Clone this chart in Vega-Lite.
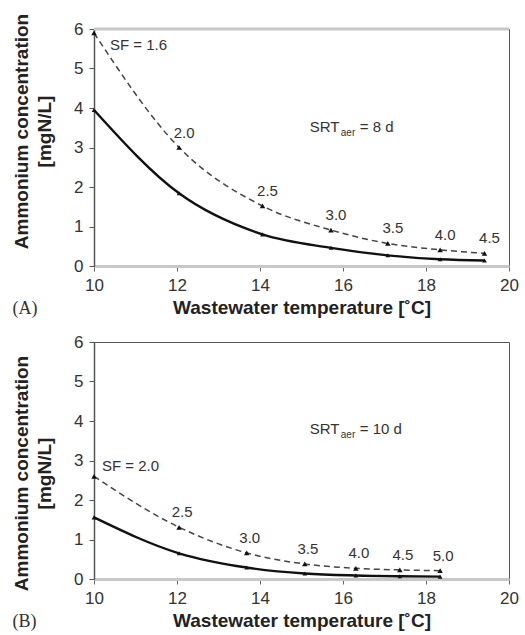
{
  "$schema": "https://vega.github.io/schema/vega-lite/v6.json",
  "padding": {"left": 12, "top": 12, "right": 4, "bottom": 2},
  "background": "white",
  "config": {
    "view": {"stroke": "#555", "strokeWidth": 1},
    "font": "Liberation Sans",
    "axis": {"grid": false, "labelFont": "Liberation Sans", "titleFont": "Liberation Sans", "labelColor": "#333", "titleColor": "#222", "labelOverlap": false, "labelFlush": false, "labelSeparation": 0, "labelFontSize": 17, "titleFontSize": 19, "titleFontWeight": "bold", "tickSize": 5},
    "axisY": {"domainColor": "#555", "domainWidth": 1.5, "tickColor": "#555", "labelPadding": 6, "titlePadding": 19, "titleLineHeight": 23, "tickCount": 7},
    "axisX": {"domainColor": "#c8c8c8", "domainWidth": 3, "tickColor": "#666", "labelPadding": 6, "titlePadding": 5},
    "concat": {"spacing": 76}
  },
  "datasets": {
    "a": [
      {"t": 10, "sf": 5.9, "base": 3.95, "label": "SF = 1.6"},
      {"t": 12.05, "sf": 3.0, "base": 1.84, "label": "2.0"},
      {"t": 14.06, "sf": 1.52, "base": 0.8, "label": "2.5"},
      {"t": 15.71, "sf": 0.91, "base": 0.46, "label": "3.0"},
      {"t": 17.08, "sf": 0.57, "base": 0.27, "label": "3.5"},
      {"t": 18.34, "sf": 0.41, "base": 0.17, "label": "4.0"},
      {"t": 19.41, "sf": 0.32, "base": 0.14, "label": "4.5"}
    ],
    "b": [
      {"t": 10, "sf": 2.6, "base": 1.56, "label": "SF = 2.0"},
      {"t": 12.05, "sf": 1.31, "base": 0.65, "label": "2.5"},
      {"t": 13.68, "sf": 0.66, "base": 0.29, "label": "3.0"},
      {"t": 15.08, "sf": 0.38, "base": 0.14, "label": "3.5"},
      {"t": 16.31, "sf": 0.27, "base": 0.09, "label": "4.0"},
      {"t": 17.37, "sf": 0.23, "base": 0.07, "label": "4.5"},
      {"t": 18.34, "sf": 0.21, "base": 0.06, "label": "5.0"}
    ]
  },
  "vconcat": [
    {
      "width": 415,
      "height": 237,
      "title": {"text": "(A)", "orient": "bottom", "anchor": "start", "frame": "bounds", "font": "Liberation Serif", "fontSize": 18, "fontWeight": "normal", "color": "#333", "offset": -17},
      "data": {"name": "a"},
      "layer": [
        {"mark": {"type": "line", "interpolate": "monotone", "color": "#444", "strokeWidth": 1.5, "strokeDash": [6, 4]},
          "encoding": {
            "x": {"field": "t", "type": "quantitative", "scale": {"domain": [10, 20], "nice": false},
              "axis": {"title": "Wastewater temperature [˚C]", "values": [10, 12, 14, 16, 18, 20], "format": "d"}},
            "y": {"field": "sf", "type": "quantitative", "scale": {"domain": [0, 6], "nice": false},
              "axis": {"title": ["Ammonium concentration", "[mgN/L]"], "values": [0, 1, 2, 3, 4, 5, 6], "format": "d", "titleY": 102}}}},
        {"data": {"values": [{}]}, "mark": {"type": "rule", "color": "#c8c8c8", "strokeWidth": 3},
          "encoding": {"y": {"datum": 6, "type": "quantitative", "axis": {"title": ["Ammonium concentration", "[mgN/L]"], "values": [0, 1, 2, 3, 4, 5, 6], "format": "d", "titleY": 102}}}},
        {"mark": {"type": "line", "interpolate": "monotone", "color": "#111", "strokeWidth": 2.4},
          "encoding": {"x": {"field": "t", "type": "quantitative"}, "y": {"field": "base", "type": "quantitative", "axis": {"title": ["Ammonium concentration", "[mgN/L]"], "values": [0, 1, 2, 3, 4, 5, 6], "format": "d", "titleY": 102}}}},
        {"mark": {"type": "point", "shape": "triangle-up", "filled": true, "color": "#111", "size": 30, "opacity": 1},
          "encoding": {"x": {"field": "t", "type": "quantitative"}, "y": {"field": "sf", "type": "quantitative", "axis": {"title": ["Ammonium concentration", "[mgN/L]"], "values": [0, 1, 2, 3, 4, 5, 6], "format": "d", "titleY": 102}}}},
        {"mark": {"type": "point", "shape": "triangle-up", "filled": true, "color": "#111", "size": 22, "opacity": 1},
          "encoding": {"x": {"field": "t", "type": "quantitative"}, "y": {"field": "base", "type": "quantitative", "axis": {"title": ["Ammonium concentration", "[mgN/L]"], "values": [0, 1, 2, 3, 4, 5, 6], "format": "d", "titleY": 102}}}},
        {"transform": [{"filter": "datum.t > 10"}],
          "mark": {"type": "text", "fontSize": 15, "color": "#333", "dx": 5, "dy": -15, "align": "center", "baseline": "middle"},
          "encoding": {"x": {"field": "t", "type": "quantitative"}, "y": {"field": "sf", "type": "quantitative", "axis": {"title": ["Ammonium concentration", "[mgN/L]"], "values": [0, 1, 2, 3, 4, 5, 6], "format": "d", "titleY": 102}}, "text": {"field": "label"}}},
        {"transform": [{"filter": "datum.t == 10"}],
          "mark": {"type": "text", "fontSize": 15, "color": "#333", "dx": 16, "dy": 12, "align": "left", "baseline": "middle"},
          "encoding": {"x": {"field": "t", "type": "quantitative"}, "y": {"field": "sf", "type": "quantitative", "axis": {"title": ["Ammonium concentration", "[mgN/L]"], "values": [0, 1, 2, 3, 4, 5, 6], "format": "d", "titleY": 102}}, "text": {"field": "label"}}},
        {"data": {"values": [{}]}, "mark": {"type": "text", "text": "SRT", "fontSize": 15, "color": "#333", "align": "left", "baseline": "middle"},
          "encoding": {"x": {"datum": 15.2}, "y": {"datum": 3.52}}},
        {"data": {"values": [{}]}, "mark": {"type": "text", "text": "aer", "fontSize": 10, "color": "#333", "align": "left", "baseline": "middle", "dx": 31, "dy": 6},
          "encoding": {"x": {"datum": 15.2}, "y": {"datum": 3.52}}},
        {"data": {"values": [{}]}, "mark": {"type": "text", "text": "= 8 d", "fontSize": 15, "color": "#333", "align": "left", "baseline": "middle", "dx": 50},
          "encoding": {"x": {"datum": 15.2}, "y": {"datum": 3.52}}}
      ]
    },
    {
      "width": 415,
      "height": 237,
      "title": {"text": "(B)", "orient": "bottom", "anchor": "start", "frame": "bounds", "font": "Liberation Serif", "fontSize": 18, "fontWeight": "normal", "color": "#333", "offset": -17},
      "data": {"name": "b"},
      "layer": [
        {"mark": {"type": "line", "interpolate": "monotone", "color": "#444", "strokeWidth": 1.5, "strokeDash": [6, 4]},
          "encoding": {
            "x": {"field": "t", "type": "quantitative", "scale": {"domain": [10, 20], "nice": false},
              "axis": {"title": "Wastewater temperature [˚C]", "values": [10, 12, 14, 16, 18, 20], "format": "d"}},
            "y": {"field": "sf", "type": "quantitative", "scale": {"domain": [0, 6], "nice": false},
              "axis": {"title": ["Ammonium concentration", "[mgN/L]"], "values": [0, 1, 2, 3, 4, 5, 6], "format": "d", "titleY": 131}}}},
        {"mark": {"type": "line", "interpolate": "monotone", "color": "#111", "strokeWidth": 2.4},
          "encoding": {"x": {"field": "t", "type": "quantitative"}, "y": {"field": "base", "type": "quantitative", "axis": {"title": ["Ammonium concentration", "[mgN/L]"], "values": [0, 1, 2, 3, 4, 5, 6], "format": "d", "titleY": 131}}}},
        {"mark": {"type": "point", "shape": "triangle-up", "filled": true, "color": "#111", "size": 30, "opacity": 1},
          "encoding": {"x": {"field": "t", "type": "quantitative"}, "y": {"field": "sf", "type": "quantitative", "axis": {"title": ["Ammonium concentration", "[mgN/L]"], "values": [0, 1, 2, 3, 4, 5, 6], "format": "d", "titleY": 131}}}},
        {"mark": {"type": "point", "shape": "triangle-up", "filled": true, "color": "#111", "size": 22, "opacity": 1},
          "encoding": {"x": {"field": "t", "type": "quantitative"}, "y": {"field": "base", "type": "quantitative", "axis": {"title": ["Ammonium concentration", "[mgN/L]"], "values": [0, 1, 2, 3, 4, 5, 6], "format": "d", "titleY": 131}}}},
        {"transform": [{"filter": "datum.t > 10"}],
          "mark": {"type": "text", "fontSize": 15, "color": "#333", "dx": 3, "dy": -15, "align": "center", "baseline": "middle"},
          "encoding": {"x": {"field": "t", "type": "quantitative"}, "y": {"field": "sf", "type": "quantitative", "axis": {"title": ["Ammonium concentration", "[mgN/L]"], "values": [0, 1, 2, 3, 4, 5, 6], "format": "d", "titleY": 131}}, "text": {"field": "label"}}},
        {"transform": [{"filter": "datum.t == 10"}],
          "mark": {"type": "text", "fontSize": 15, "color": "#333", "dx": 8, "dy": -10, "align": "left", "baseline": "middle"},
          "encoding": {"x": {"field": "t", "type": "quantitative"}, "y": {"field": "sf", "type": "quantitative", "axis": {"title": ["Ammonium concentration", "[mgN/L]"], "values": [0, 1, 2, 3, 4, 5, 6], "format": "d", "titleY": 131}}, "text": {"field": "label"}}},
        {"data": {"values": [{}]}, "mark": {"type": "text", "text": "SRT", "fontSize": 15, "color": "#333", "align": "left", "baseline": "middle"},
          "encoding": {"x": {"datum": 15.2}, "y": {"datum": 3.81}}},
        {"data": {"values": [{}]}, "mark": {"type": "text", "text": "aer", "fontSize": 10, "color": "#333", "align": "left", "baseline": "middle", "dx": 31, "dy": 6},
          "encoding": {"x": {"datum": 15.2}, "y": {"datum": 3.81}}},
        {"data": {"values": [{}]}, "mark": {"type": "text", "text": "= 10 d", "fontSize": 15, "color": "#333", "align": "left", "baseline": "middle", "dx": 50},
          "encoding": {"x": {"datum": 15.2}, "y": {"datum": 3.81}}}
      ]
    }
  ],
  "resolve": {"scale": {"x": "independent"}},
  "bounds": "flush"
}
